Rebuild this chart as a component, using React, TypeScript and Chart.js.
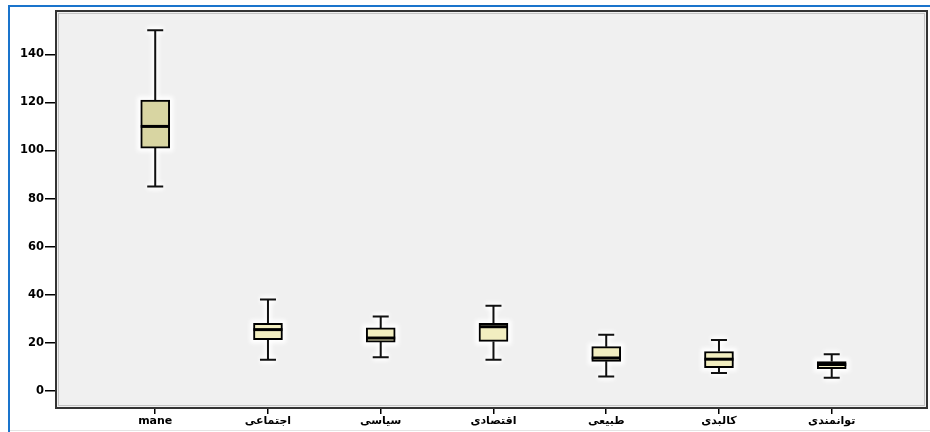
import { useEffect, useRef } from "react";
import { Chart, registerables } from "chart.js";

Chart.register(...registerables);

const categories = ["mane", "اجتماعی", "سیاسی", "اقتصادی", "طبیعی", "کالبدی", "توانمندی"];
const whiskerLow = [85, 13, 14, 13, 6, 7.5, 5.5];
const q1 = [101, 21.3, 20.3, 20.6, 12.3, 9.7, 9.3];
const median = [110, 25.5, 22, 26.7, 13.7, 13.2, 11];
const q3 = [121, 28.1, 26.2, 28.1, 18.4, 16.4, 12.2];
const whiskerHigh = [150, 38, 31, 35.4, 23.4, 21.2, 15.3];
const yTicks = [0, 20, 40, 60, 80, 100, 120, 140];

const BOX_W = 29;
const CAP_W = 16;

const boxPlugin = {
  id: "boxPlugin",
  beforeDraw(chart: any) {
    const { ctx, chartArea } = chart;
    ctx.save();
    ctx.fillStyle = "#f0f0f0";
    ctx.fillRect(chartArea.left, chartArea.top, chartArea.right - chartArea.left, chartArea.bottom - chartArea.top);
    ctx.restore();
  },
  beforeDatasetsDraw(chart: any) {
    const { ctx, scales } = chart;
    const xs = scales.x;
    const ys = scales.y;
    ctx.save();
    ctx.filter = "blur(2px)";
    ctx.strokeStyle = "#ffffff";
    ctx.lineWidth = 7;
    categories.forEach((_, i) => {
      const cx = xs.getPixelForValue(i + 1);
      const yt = ys.getPixelForValue(whiskerHigh[i]);
      const yb = ys.getPixelForValue(whiskerLow[i]);
      const y3 = ys.getPixelForValue(q3[i]);
      const y1 = ys.getPixelForValue(q1[i]);
      ctx.beginPath();
      ctx.moveTo(cx, yt);
      ctx.lineTo(cx, yb);
      ctx.moveTo(cx - CAP_W / 2, yt);
      ctx.lineTo(cx + CAP_W / 2, yt);
      ctx.moveTo(cx - CAP_W / 2, yb);
      ctx.lineTo(cx + CAP_W / 2, yb);
      ctx.stroke();
      ctx.strokeRect(cx - BOX_W / 2, y3, BOX_W, y1 - y3);
    });
    ctx.filter = "none";
    ctx.strokeStyle = "#111111";
    ctx.lineWidth = 2;
    categories.forEach((_, i) => {
      const cx = xs.getPixelForValue(i + 1);
      const yt = ys.getPixelForValue(whiskerHigh[i]);
      const yb = ys.getPixelForValue(whiskerLow[i]);
      const y3 = ys.getPixelForValue(q3[i]);
      const y1 = ys.getPixelForValue(q1[i]);
      ctx.beginPath();
      ctx.moveTo(cx, yt);
      ctx.lineTo(cx, y3);
      ctx.moveTo(cx, y1);
      ctx.lineTo(cx, yb);
      ctx.moveTo(cx - CAP_W / 2, yt);
      ctx.lineTo(cx + CAP_W / 2, yt);
      ctx.moveTo(cx - CAP_W / 2, yb);
      ctx.lineTo(cx + CAP_W / 2, yb);
      ctx.stroke();
    });
    ctx.restore();
  },
  afterDatasetsDraw(chart: any) {
    const { ctx, scales } = chart;
    const xs = scales.x;
    const ys = scales.y;
    ctx.save();
    ctx.strokeStyle = "#000000";
    ctx.lineWidth = 3;
    categories.forEach((_, i) => {
      const cx = xs.getPixelForValue(i + 1);
      const ym = ys.getPixelForValue(median[i]);
      ctx.beginPath();
      ctx.moveTo(cx - BOX_W / 2, ym);
      ctx.lineTo(cx + BOX_W / 2, ym);
      ctx.stroke();
    });
    ctx.restore();
  },
  afterDraw(chart: any) {
    const { ctx, chartArea } = chart;
    ctx.save();
    ctx.strokeStyle = "#c4c4c4";
    ctx.lineWidth = 1;
    ctx.strokeRect(chartArea.left + 2.5, chartArea.top + 2.5, chartArea.right - chartArea.left - 5, chartArea.bottom - chartArea.top - 5);
    ctx.strokeStyle = "#333333";
    ctx.lineWidth = 2;
    ctx.strokeRect(chartArea.left, chartArea.top, chartArea.right - chartArea.left, chartArea.bottom - chartArea.top);
    ctx.restore();
  },
};

export default function App() {
  const canvasRef = useRef<HTMLCanvasElement | null>(null);

  useEffect(() => {
    if (!canvasRef.current) return;
    const boxColors = categories.map((_, i) => (i === 0 ? "#d8d5a2" : "#f2eec0"));
    const chart = new Chart(canvasRef.current, {
      type: "bar",
      data: {
        datasets: [
          {
            data: categories.map((_, i) => ({ x: i + 1, y: [q1[i], q3[i]] })) as any,
            backgroundColor: boxColors,
            borderColor: "#000000",
            borderWidth: 2,
            borderSkipped: false,
            barThickness: BOX_W,
          },
        ],
      },
      options: {
        animation: false,
        responsive: false,
        events: [],
        layout: { padding: { left: 0, top: 11, right: 3, bottom: 0 } },
        plugins: {
          legend: { display: false },
          tooltip: { enabled: false },
        },
        scales: {
          x: {
            type: "linear",
            offset: false,
            min: 0.12,
            max: 7.845,
            afterBuildTicks: (scale: any) => {
              scale.ticks = categories.map((_, i) => ({ value: i + 1 }));
            },
            afterFit: (scale: any) => {
              scale.height = 24;
            },
            ticks: {
              autoSkip: false,
              maxRotation: 0,
              padding: 1,
              color: "#000000",
              font: { family: "DejaVu Sans", weight: "bold", size: 11 },
              callback: (v: any) => categories[Math.round(Number(v)) - 1] ?? "",
            },
            grid: { offset: false, drawOnChartArea: false, drawTicks: true, tickLength: 6, color: "#000000", lineWidth: 1.5 },
            border: { display: true, color: "#222222", width: 2 },
          },
          y: {
            type: "linear",
            min: -7.1,
            max: 158,
            afterBuildTicks: (scale: any) => {
              scale.ticks = yTicks.map((v) => ({ value: v }));
            },
            afterFit: (scale: any) => {
              scale.width = 56;
            },
            ticks: {
              padding: 1,
              color: "#000000",
              font: { family: "DejaVu Sans", weight: "bold", size: 11.5 },
              callback: (v: any) => String(v),
            },
            grid: { drawOnChartArea: false, drawTicks: true, tickLength: 11, color: "#000000", lineWidth: 1.5 },
            border: { display: true, color: "#222222", width: 2 },
          },
        },
      },
      plugins: [boxPlugin],
    });
    return () => chart.destroy();
  }, []);

  return (
    <div style={{ position: "absolute", left: 0, top: 0, width: 930, height: 432, background: "#ffffff" }}>
      <canvas ref={canvasRef} width={930} height={432} style={{ position: "absolute", left: 0, top: 0 }} />
      <div
        style={{
          position: "absolute",
          left: 8,
          top: 5,
          width: 922,
          height: 427,
          borderTop: "2.5px solid #1a74cc",
          borderLeft: "2px solid #1a74cc",
          boxSizing: "border-box",
          pointerEvents: "none",
        }}
      />
      <div style={{ position: "absolute", left: 10, top: 430, width: 920, height: 1, background: "#e4e4e4" }} />
    </div>
  );
}
